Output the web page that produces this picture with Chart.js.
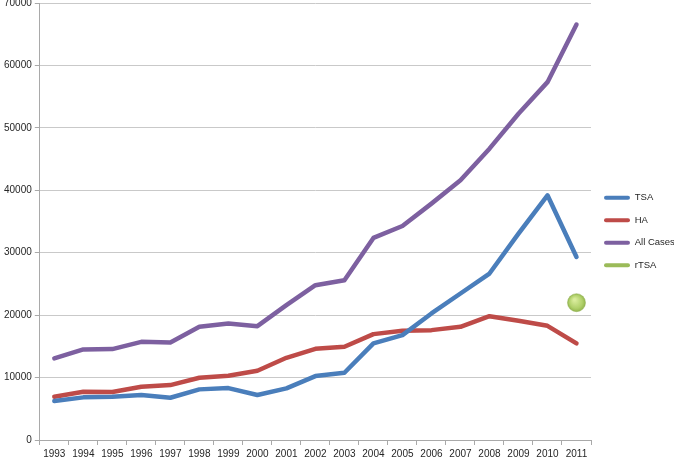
<!DOCTYPE html>
<html>
<head>
<meta charset="utf-8">
<script src="https://cdn.jsdelivr.net/npm/chart.js@4"></script>
<style>
  body { margin: 0; background: #fff; }
  #wrap { width: 674px; height: 459px; }
</style>
</head>
<body>
<div id="wrap"><canvas id="myChart"></canvas></div>
<script>
// chart data
const years = ["1993", "1994", "1995", "1996", "1997", "1998", "1999", "2000", "2001", "2002",
  "2003", "2004", "2005", "2006", "2007", "2008", "2009", "2010", "2011"];
const tsa = [6240, 6830, 6930, 7200, 6770, 8110, 8320, 7200, 8270, 10240,
  10770, 15470, 16800, 20270, 23470, 26670, 33070, 39200, 29330];
const ha = [6930, 7730, 7680, 8530, 8800, 9970, 10290, 11090, 13170, 14610,
  14930, 16960, 17490, 17600, 18130, 19840, 19090, 18290, 15470];
const allCases = [13070, 14510, 14560, 15730, 15630, 18130, 18670, 18240, 21600, 24800,
  25600, 32370, 34290, 37870, 41600, 46670, 52270, 57330, 66560];
const rtsa = [null, null, null, null, null, null, null, null, null, null,
  null, null, null, null, null, null, null, null, 22000];

const gridColor = "#c9c9c9";
const axisColor = "#a9a9a9";
const textColor = "#262626";

// green ball for rTSA
function ballColor(c) {
  const chart = c.chart;
  if (!chart.chartArea || c.type !== "data" || c.raw == null) return "#a9c865";
  const x = chart.scales.x.getPixelForValue(c.dataIndex);
  const y = chart.scales.y.getPixelForValue(c.raw);
  const g = chart.ctx.createRadialGradient(x - 2, y - 3, 1, x, y, 9);
  g.addColorStop(0, "#d9ec9c");
  g.addColorStop(0.7, "#b0d06a");
  g.addColorStop(1, "#93b54e");
  return g;
}

function lineSet(label, data, color) {
  return {
    label: label,
    data: data,
    borderColor: color,
    backgroundColor: color,
    borderWidth: 4.5,
    pointRadius: 0,
    tension: 0,
    borderCapStyle: "round",
    borderJoinStyle: "round",
  };
}

// make the legend box narrower so the plot reaches x=591
const legendFit = {
  id: "legendFit",
  beforeInit(chart) {
    const fit = chart.legend.fit;
    chart.legend.fit = function () {
      fit.bind(chart.legend)();
      this.width = 83;
    };
  },
};

const ctx = document.getElementById("myChart").getContext("2d");
const chart = new Chart(ctx, {
  type: "line",
  data: {
    labels: years,
    datasets: [
      lineSet("TSA", tsa, "#4a7ebb"),
      lineSet("HA", ha, "#be4b48"),
      lineSet("All Cases", allCases, "#7d60a0"),
      {
        label: "rTSA",
        data: rtsa,
        borderColor: "#9bbb59",
        backgroundColor: ballColor,
        showLine: false,
        pointRadius: 9,
        pointBorderWidth: 0.5,
        pointBorderColor: "#8fae50",
      },
    ],
  },
  options: {
    responsive: true,
    maintainAspectRatio: false,
    animation: false,
    events: [],
    layout: { autoPadding: false, padding: { left: 1, top: 0, right: 0, bottom: -4 } },
    plugins: {
      tooltip: { enabled: false },
      legend: {
        position: "right",
        labels: {
          color: textColor,
          font: { family: "Liberation Sans", size: 9.5 },
          boxWidth: 26,
          boxHeight: 4,
          padding: 13,
          useBorderRadius: true,
          borderRadius: 2,
          generateLabels: (chart) =>
            chart.data.datasets.map((ds, i) => ({
              text: ds.label,
              fillStyle: ds.borderColor,
              strokeStyle: ds.borderColor,
              lineWidth: 0,
              hidden: false,
              datasetIndex: i,
              borderRadius: 2,
              fontColor: textColor,
            })),
        },
      },
    },
    scales: {
      x: {
        offset: true,
        grid: {
          offset: true,
          drawOnChartArea: false,
          drawTicks: true,
          tickLength: 5,
          color: axisColor,
        },
        border: { color: axisColor },
        ticks: {
          color: textColor,
          font: { family: "Liberation Sans", size: 10 },
          padding: 3,
          maxRotation: 0,
          autoSkip: false,
        },
      },
      y: {
        min: 0,
        max: 70000,
        grid: { color: gridColor, tickLength: 5, tickColor: axisColor },
        border: { color: axisColor },
        ticks: {
          stepSize: 10000,
          color: textColor,
          font: { family: "Liberation Sans", size: 10, lineHeight: 0.01 },
          padding: 3,
          callback: (v) => String(v),
        },
      },
    },
  },
  plugins: [legendFit],
});
</script>
</body>
</html>
